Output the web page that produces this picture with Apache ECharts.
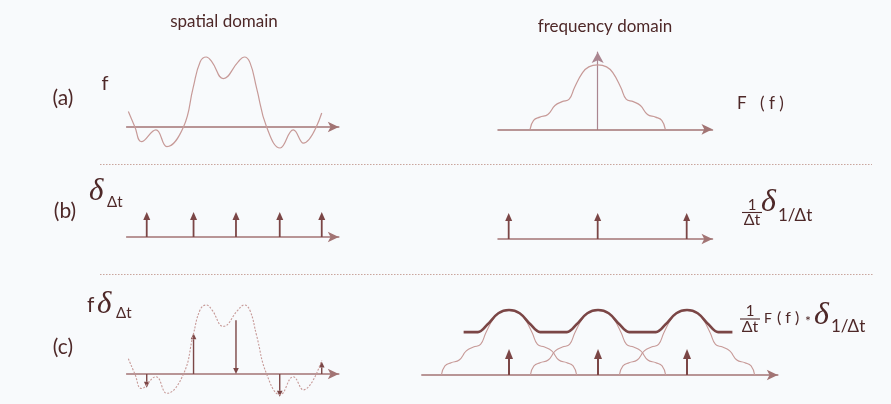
<!DOCTYPE html>
<html>
<head>
<meta charset="utf-8">
<script src="https://cdn.jsdelivr.net/npm/echarts@6/dist/echarts.min.js"></script>
<style>
  html, body { margin: 0; padding: 0; background: #f8fafc; }
  #chart { width: 891px; height: 404px; }
</style>
</head>
<body>
<div id="chart"></div>
<script>
// f(t), t in units of Δt
const spatialT = [-2.46, -2.31, -2.16, -1.83, -1.58, -1.20, -0.98, -0.82, -0.68, -0.55, -0.29, 0.05, 0.19, 0.32, 0.47, 0.70, 1.01, 1.31, 1.54, 1.96];
const spatialF = [0.22, 0, -0.21, -0.04, -0.28, 0, 0.56, 0.93, 1.0, 0.93, 0.69, 0.93, 1.0, 0.92, 0.56, 0, -0.30, -0.04, -0.23, 0.2];

// sampling comb δΔt and the samples f(mΔt)
const combT = [-2.04, -0.97, 0, 1.0, 1.96];
const combHeight = [1, 1, 1, 1, 1];
const sampledF = [-0.2, 0.59, 0.78, -0.33, 0.18];
const sampledHeadAtAxis = [false, false, true, false, false];

// F(ν), ν in units of 1/Δt
const freqNu = [-0.76, -0.72, -0.65, -0.56, -0.48, -0.40, -0.32, -0.26, -0.17, -0.10, 0, 0.10, 0.17, 0.26, 0.32, 0.40, 0.48, 0.56, 0.65, 0.72, 0.76];
const freqF = [0, 0.14, 0.19, 0.23, 0.37, 0.43, 0.47, 0.65, 0.88, 0.97, 1, 0.97, 0.88, 0.65, 0.47, 0.43, 0.37, 0.23, 0.19, 0.14, 0];

// comb 1/Δt δ1/Δt
const freqComb = [-1, 0, 1];
const freqCombHeightB = [1, 1, 1];
const freqCombHeightC = [0.4, 0.4, 0.4];
const aliasShifts = [-1, 0, 1];

// periodised spectrum (thick curve)
const periodicNu = [-1.51, -1.35, -1.24, -1.12, -1.0, -0.88, -0.76, -0.65, -0.35, -0.24, -0.12, 0, 0.12, 0.24, 0.35, 0.65, 0.76, 0.88, 1.0, 1.12, 1.24, 1.35, 1.51];
const periodicF = [0.66, 0.66, 0.78, 0.95, 1.0, 0.95, 0.78, 0.66, 0.66, 0.78, 0.95, 1.0, 0.95, 0.78, 0.66, 0.66, 0.78, 0.95, 1.0, 0.95, 0.78, 0.66, 0.66];

const TEXT = '#4e2828';
const ARROW = '#7b4646';
const AXIS = '#a27474';
const THIN = '#c79a98';
const FONT = "Lato, 'DejaVu Sans', sans-serif";
const SERIF = "'Liberation Serif', 'DejaVu Serif', serif";

const pairs = (xs, ys) => xs.map((x, i) => [x, ys[i]]);

const chart = echarts.init(document.getElementById('chart'), null, { renderer: 'canvas' });

// grids: spatial (a,b,c), frequency (a,b,c)
const grids = [
  { left: 126.6, top: 50, width: 212.2, height: 105 },
  { left: 126.6, top: 207, width: 212.2, height: 30 },
  { left: 126.6, top: 298.1, width: 212.2, height: 103.5 },
  { left: 498, top: 52.1, width: 214.5, height: 77.2 },
  { left: 498, top: 207.8, width: 214.5, height: 31.2 },
  { left: 421.8, top: 303.5, width: 356, height: 71.5 }
];
const xRanges = [[-2.5, 2.35], [-2.5, 2.35], [-2.5, 2.35], [-1.12, 1.29], [-1.12, 1.29], [-1.98, 2.02]];
const yRanges = [[-0.4, 1.1], [0, 1.2], [-0.4, 1.1], [0, 1.2], [0, 1.2], [0, 1.1]];

const xAxes = xRanges.map((r, i) => ({
  type: 'value', gridIndex: i, min: r[0], max: r[1],
  axisLine: { show: true, onZero: true, symbol: ['none', 'arrow'], symbolSize: [8, 11],
    lineStyle: { color: AXIS, width: 1.5 } },
  axisTick: { show: false }, axisLabel: { show: false }, splitLine: { show: false }
}));
// only the F(f) panel shows its vertical axis
const yAxes = yRanges.map((r, i) => ({
  type: 'value', gridIndex: i, min: r[0], max: r[1],
  show: i === 3,
  axisLine: { show: i === 3, onZero: true, symbol: ['none', 'arrow'], symbolSize: [9, 11],
    lineStyle: { color: '#aa8590', width: 1.2 } },
  axisTick: { show: false }, axisLabel: { show: false }, splitLine: { show: false }
}));

// Dirac impulses drawn as arrows from the axis
function impulses(gridIndex, xs, hs, headAtAxis, head) {
  return {
    type: 'custom', xAxisIndex: gridIndex, yAxisIndex: gridIndex, silent: true,
    data: xs.map((x, i) => [x, hs[i], headAtAxis && headAtAxis[i] ? 1 : 0]),
    renderItem: (params, api) => {
      const base = api.coord([api.value(0), 0]);
      const tip = api.coord([api.value(0), api.value(1)]);
      const flip = api.value(2) === 1;
      const from = flip ? tip : base;
      const to = flip ? base : tip;
      const dir = Math.sign(to[1] - from[1]) || -1;
      const neck = to[1] - dir * head.len;
      return {
        type: 'group',
        children: [
          { type: 'line', shape: { x1: from[0], y1: from[1], x2: to[0], y2: neck },
            style: { stroke: ARROW, lineWidth: head.width } },
          { type: 'polygon', shape: { points: [[to[0], to[1]], [to[0] - head.half, neck], [to[0] + head.half, neck]] },
            style: { fill: ARROW } }
        ]
      };
    }
  };
}

function curve(gridIndex, data, style, smooth) {
  return {
    type: 'line', xAxisIndex: gridIndex, yAxisIndex: gridIndex, data: data,
    showSymbol: false, smooth: smooth, silent: true, lineStyle: style, z: 2
  };
}

const series = [
  curve(0, pairs(spatialT, spatialF), { color: THIN, width: 1.2 }, 0.45),
  impulses(1, combT, combHeight, null, { len: 8, half: 3.5, width: 1.8 }),
  curve(2, pairs(spatialT, spatialF), { color: THIN, width: 1.1, type: [2, 1.5] }, 0.45),
  impulses(2, combT, sampledF, sampledHeadAtAxis, { len: 6, half: 2.8, width: 1.4 }),
  curve(3, pairs(freqNu, freqF), { color: THIN, width: 1.2 }, 0.45),
  impulses(4, freqComb, freqCombHeightB, null, { len: 8, half: 3.5, width: 1.8 })
];
// shifted copies of F around each comb tooth
aliasShifts.forEach(s => {
  series.push(curve(5, freqNu.map((nu, i) => [nu + s, freqF[i]]), { color: THIN, width: 1.1 }, 0.45));
});
series.push(curve(5, pairs(periodicNu, periodicF), { color: ARROW, width: 2.6 }, 0.35));
series.push(impulses(5, freqComb, freqCombHeightC, null, { len: 10, half: 4, width: 2 }));

function txt(text, x, y, size, align) {
  return {
    type: 'text', x: x, y: y, silent: true,
    style: { text: text, fill: TEXT, font: size + 'px ' + FONT,
      align: align || 'left', verticalAlign: 'middle' }
  };
}
function delta(x, y, size) {
  return {
    type: 'text', x: x, y: y, silent: true,
    style: { text: '\u03b4', fill: TEXT, font: 'italic ' + size + 'px ' + SERIF, verticalAlign: 'middle' }
  };
}
function bar(x1, x2, y) {
  return { type: 'line', silent: true, shape: { x1: x1, y1: y, x2: x2, y2: y },
    style: { stroke: TEXT, lineWidth: 1.1 } };
}
function dotted(x1, x2, y) {
  return { type: 'line', silent: true, shape: { x1: x1, y1: y, x2: x2, y2: y },
    style: { stroke: '#c9a59d', lineWidth: 1, lineDash: [1.5, 1.5] } };
}

const graphic = [
  dotted(100, 872, 164.5),
  dotted(100, 873, 274.5),
  txt('spatial domain', 224, 22, 17, 'center'),
  txt('frequency domain', 605, 27, 17, 'center'),
  // (a)
  txt('(a)', 63, 98, 21, 'center'),
  txt('f', 105, 84, 20, 'center'),
  txt('F', 737, 104, 17),
  txt('( f )', 760, 104, 17),
  // (b)
  txt('(b)', 65, 211, 21, 'center'),
  delta(89, 192, 31),
  txt('\u0394t', 107, 202, 15),
  txt('1', 752, 205, 15, 'center'),
  bar(742, 762, 212.5),
  txt('\u0394t', 752, 220, 16, 'center'),
  delta(761, 203, 32),
  txt('1/\u0394t', 778, 216, 17),
  // (c)
  txt('(c)', 63, 347, 21, 'center'),
  txt('f', 87, 305, 21),
  delta(97, 305, 31),
  txt('\u0394t', 116, 313, 15),
  txt('1', 750, 311, 15, 'center'),
  bar(740, 760, 319),
  txt('\u0394t', 750, 327, 16, 'center'),
  txt('F', 764, 318, 14),
  txt('( f )', 777, 318, 16),
  txt('*', 805, 321, 14),
  delta(814, 316, 32),
  txt('1/\u0394t', 831, 327, 17)
];

chart.setOption({
  backgroundColor: '#f8fafc',
  animation: false,
  grid: grids,
  xAxis: xAxes,
  yAxis: yAxes,
  series: series,
  graphic: graphic
});
</script>
</body>
</html>
